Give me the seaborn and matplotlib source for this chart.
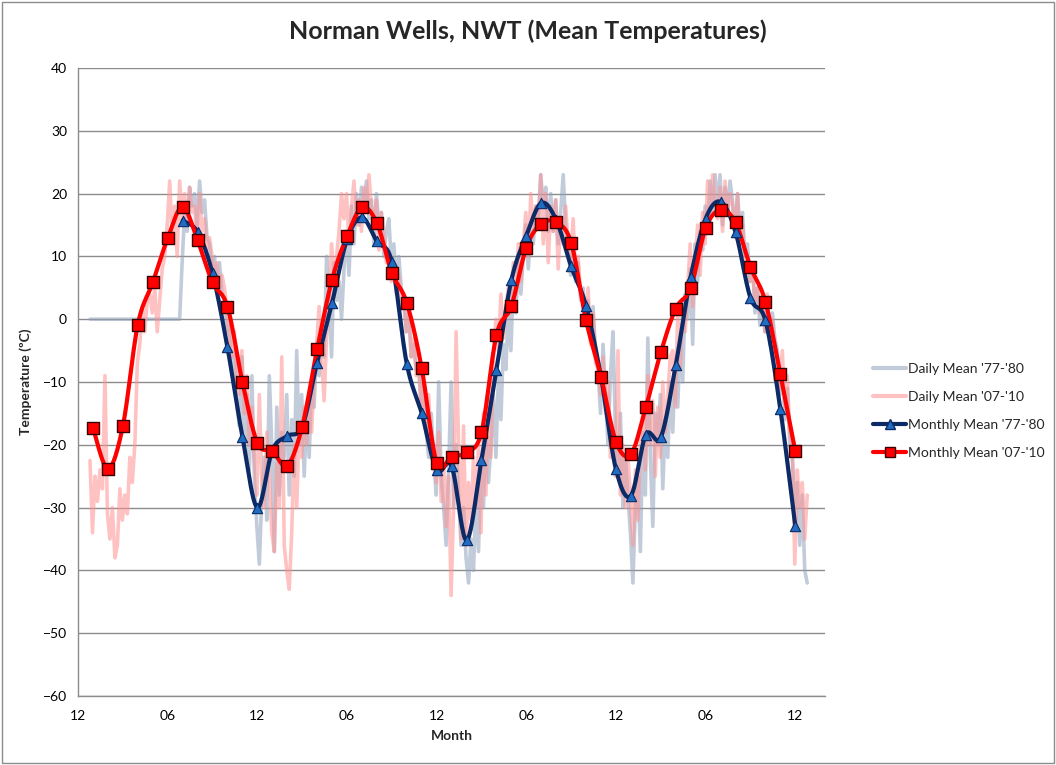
import numpy as np
import pandas as pd
import matplotlib
matplotlib.use("Agg")
import matplotlib.pyplot as plt
import seaborn as sns
from matplotlib.lines import Line2D
from matplotlib.patches import Rectangle

# ---- data -------------------------------------------------------------
tick_months = [0, 6, 12, 18, 24, 30, 36, 42, 48]
tick_labels = ["12", "06", "12", "06", "12", "06", "12", "06", "12"]

# monthly means (month index, Dec of the first year = 0)
months_77_80 = list(range(7, 49))
monthly_77_80 = [15.7, 13.9, 7.3, -4.5, -18.7, -30.0,
                 -20.9, -18.6, -17.1, -6.9, 2.6, 12.7,
                 16.2, 12.4, 9.1, -7.1, -15.0, -24.0,
                 -23.4, -35.2, -22.4, -8.1, 6.2, 13.3,
                 18.5, 15.8, 8.4, 2.1, -9.2, -23.9,
                 -28.1, -18.4, -18.8, -7.3, 6.7, 16.0,
                 18.7, 13.9, 3.4, -0.2, -14.3, -32.9]

months_07_10 = list(range(1, 49))
monthly_07_10 = [-17.3, -23.8, -17.0, -0.85, 5.85, 12.9,
                 17.9, 12.55, 5.85, 2.0, -10.0, -19.7,
                 -21.0, -23.3, -17.1, -4.8, 6.3, 13.2,
                 17.8, 15.3, 7.4, 2.6, -7.8, -22.9,
                 -21.9, -21.2, -18.0, -2.55, 2.1, 11.4,
                 15.2, 15.4, 12.2, -0.2, -9.15, -19.5,
                 -21.5, -14.0, -5.3, 1.7, 5.0, 14.5,
                 17.4, 15.4, 8.35, 2.8, -8.8, -21.0]

# daily means, sampled every ~5 days from month 0.8 to 48.8
daily_77_80 = [0, 0, 0, 0, 0, 0,
               0, 0, 0, 0, 0, 0,
               0, 0, 0, 0, 0, 0,
               0, 0, 0, 0, 0, 0,
               0, 0, 0, 0, 0, 0,
               0, 0, 0, 0, 0, 0,
               0, 9, 17, 14, 21, 18,
               20, 15, 22, 17, 19, 13,
               12, 8, 10, 5, 9, 4,
               3, -2, -1, -8, -5, -14,
               -17, -6, -20, -12, -24, -9,
               -25, -33, -39, -28, -22, -32,
               -9, -20, -37, -14, -28, -18,
               -22, -12, -28, -16, -25, -5,
               -20, -12, -25, -15, -22, -10,
               -14, -4, -9, -1, -6, 10,
               4, -6, 9, 3, 6, 0,
               8, 14, 7, 18, 12, 20,
               15, 21, 18, 22, 16, 19,
               12, 20, 15, 17, 10, 14,
               16, 9, 12, 6, 10, 5,
               3, -2, 1, -6, -4, -8,
               -7, -14, -10, -18, -22, -15,
               -22, -28, -10, -25, -30, -36,
               -24, -10, -30, -20, -28, -36,
               -30, -38, -42, -35, -40, -28,
               -37, -22, -30, -17, -26, -20,
               -12, -22, -9, -16, -4, -8,
               2, -5, 6, 1, 9, 4,
               10, 15, 8, 14, 12, 18,
               16, 23, 18, 21, 14, 20,
               14, 19, 12, 17, 23, 15,
               11, 7, 12, 6, 9, 3,
               5, 0, 3, -3, 2, -5,
               -8, -15, -4, -12, -20, -9,
               -2, -18, -25, -15, -30, -22,
               -28, -34, -42, -30, -25, -37,
               -18, -28, -3, -22, -33, -15,
               -20, -12, -27, -16, -22, -10,
               -18, -7, -14, -3, -10, 4,
               0, 8, -4, 12, 6, 14,
               11, 18, 14, 22, 17, 23,
               18, 23, 15, 21, 17, 22,
               19, 13, 20, 14, 17, 10,
               12, 6, 9, 1, 5, -1,
               4, -2, 3, -4, 1, -3,
               -5, -12, -8, -16, -11, -20,
               -22, -30, -26, -36, -28, -40,
               -42]

daily_07_10 = [-22.5, -34, -25, -29, -24, -27,
               -9, -31, -35, -30, -38, -36,
               -27, -32, -28, -31, -22, -26,
               -20, -7, -4, 2, -2, 3,
               4, 1, 5, -2, 3, 8,
               10, 15, 22, 13, 18, 10,
               22, 16, 20, 15, 21, 17,
               18, 12, 20, 14, 16, 11,
               13, 10, 6, 9, 4, 7,
               5, 1, -3, -6, -2, -10,
               -12, -5, -15, -9, -20, -14,
               -22, -28, -12, -26, -30, -18,
               -25, -34, -37, -23, -30, -6,
               -36, -40, -43, -34, -20, -30,
               -17, -22, -14, -20, -12, -18,
               -9, -4, 2, -6, -13, -3,
               3, 12, 6, 10, 14, 20,
               16, 20, 12, 18, 22, 15,
               19, 14, 21, 17, 23, 18,
               15, 19, 11, 17, 13, 9,
               9, 6, 8, 4, 7, 3,
               4, -2, 1, -6, -3, -9,
               -8, -14, -10, -18, -12, -20,
               -20, -26, -18, -29, -23, -33,
               -25, -44, -30, -2, -20, -35,
               -17, -36, -26, -32, -22, -30,
               -20, -34, -15, -28, -12, -22,
               -6, 0, -5, 4, -3, 2,
               5, 1, 9, 4, 12, 6,
               12, 17, 10, 20, 14, 18,
               15, 23, 12, 20, 9, 18,
               14, 19, 8, 16, 12, 18,
               12, 9, 16, 7, 10, 4,
               3, -1, 5, -4, 1, -7,
               -8, -12, -6, -15, -10, -22,
               -18, -25, -5, -28, -20, -30,
               -22, -28, -36, -24, -32, -20,
               -15, -24, -9, -20, -13, -25,
               -14, -22, -10, -18, -12, -6,
               -5, -14, 1, -8, 3, -2,
               5, 12, 2, 9, 15, 7,
               17, 12, 22, 15, 23, 18,
               16, 21, 14, 22, 17, 20,
               18, 14, 20, 12, 15, 9,
               10, 6, 8, 3, 5, 1,
               2, -2, 4, -4, 0, -6,
               -7, -11, -5, -14, -9, -18,
               -20, -39, -24, -30, -26, -35,
               -28]

# ---- colours ------------------------------------------------------------
C_DAILY_OLD = "#91a1bd"
C_DAILY_NEW = "#ff9191"
C_MONTH_OLD = "#0b2a66"
C_MARK_OLD = "#1f6cc0"
C_MONTH_NEW = "#ff0000"
GRID = "#8c8c8c"


def smooth_curve(x, y, steps=24):
    """Cubic Bezier smoothing through every point (spreadsheet-style)."""
    x = np.asarray(x, float)
    y = np.asarray(y, float)
    px = np.concatenate([[x[0]], x, [x[-1]]])
    py = np.concatenate([[y[0]], y, [y[-1]]])
    t = np.linspace(0, 1, steps)[:, None]
    xs, ys = [], []
    for i in range(1, len(px) - 2):
        p0 = np.array([px[i], py[i]])
        p3 = np.array([px[i + 1], py[i + 1]])
        c1 = p0 + (np.array([px[i + 1], py[i + 1]]) - np.array([px[i - 1], py[i - 1]])) / 6
        c2 = p3 - (np.array([px[i + 2], py[i + 2]]) - p0) / 6
        seg = ((1 - t) ** 3) * p0 + 3 * ((1 - t) ** 2) * t * c1 + 3 * (1 - t) * t ** 2 * c2 + t ** 3 * p3
        xs.append(seg[:, 0])
        ys.append(seg[:, 1])
    return np.concatenate(xs), np.concatenate(ys)


# ---- figure -------------------------------------------------------------
sns.set_theme(style="white")
plt.rcParams["font.family"] = ["Lato", "DejaVu Sans"]

fig = plt.figure(figsize=(10.56, 7.65), dpi=100)
ax = fig.add_axes([0.0739, 0.0902, 0.7075, 0.8209])

daily_old = pd.DataFrame({"month": np.linspace(0.8, 48.8, len(daily_77_80)),
                          "temp": daily_77_80})
daily_new = pd.DataFrame({"month": np.linspace(0.8, 48.8, len(daily_07_10)),
                          "temp": daily_07_10})

sns.lineplot(data=daily_old, x="month", y="temp", ax=ax, color=C_DAILY_OLD,
             alpha=0.55, linewidth=2.6, sort=False, zorder=2)
sns.lineplot(data=daily_new, x="month", y="temp", ax=ax, color=C_DAILY_NEW,
             alpha=0.55, linewidth=2.6, sort=False, zorder=2)

sx, sy = smooth_curve(months_77_80, monthly_77_80)
ax.plot(sx, sy, color=C_MONTH_OLD, linewidth=3.0, zorder=3, solid_capstyle="round")
sx, sy = smooth_curve(months_07_10, monthly_07_10)
ax.plot(sx, sy, color=C_MONTH_NEW, linewidth=3.0, zorder=4, solid_capstyle="round")

sns.scatterplot(x=months_77_80, y=monthly_77_80, ax=ax, marker="^", s=55,
                color=C_MARK_OLD, edgecolor=C_MONTH_OLD, linewidth=0.8, zorder=5)
sns.scatterplot(x=months_07_10, y=monthly_07_10, ax=ax, marker="s", s=70,
                color=C_MONTH_NEW, edgecolor="#3a0000", linewidth=1.0, zorder=6)

ax.set_xlim(0, 50)
ax.set_ylim(-60, 40)
ax.set_yticks(np.arange(-60, 41, 10))
ax.set_xticks(tick_months)
ax.set_xticklabels(tick_labels)
ax.yaxis.grid(True, color=GRID, linewidth=1.0)
ax.xaxis.grid(False)
ax.set_axisbelow(True)
for side in ("top", "right"):
    ax.spines[side].set_visible(False)
for side in ("left", "bottom"):
    ax.spines[side].set_color(GRID)
    ax.spines[side].set_linewidth(1.0)
ax.tick_params(axis="both", which="major", length=4, width=1.0, color=GRID,
               labelsize=10, labelcolor="#000000", direction="out", pad=6)
ax.tick_params(axis="y", pad=4)

ax.set_xlabel("Month", fontsize=10, fontweight="bold", labelpad=6)
ax.set_ylabel("Temperature (ºC)", fontsize=10, fontweight="bold", labelpad=8)
fig.suptitle("Norman Wells, NWT (Mean Temperatures)", x=0.5, y=0.975,
             fontsize=18, fontweight="bold")

handles = [
    Line2D([], [], color=C_DAILY_OLD, alpha=0.55, linewidth=3),
    Line2D([], [], color=C_DAILY_NEW, alpha=0.55, linewidth=3),
    Line2D([], [], color=C_MONTH_OLD, linewidth=3, marker="^", markersize=7,
           markerfacecolor=C_MARK_OLD, markeredgecolor=C_MONTH_OLD),
    Line2D([], [], color=C_MONTH_NEW, linewidth=3, marker="s", markersize=7,
           markerfacecolor=C_MONTH_NEW, markeredgecolor="#3a0000"),
]
labels = ["Daily Mean '77-'80", "Daily Mean '07-'10",
          "Monthly Mean '77-'80", "Monthly Mean '07-'10"]
fig.legend(handles, labels, loc="center left", bbox_to_anchor=(0.815, 0.463),
           frameon=False, fontsize=10, handlelength=2.4, handletextpad=0.1,
           labelspacing=1.15)

fig.add_artist(Rectangle((0.002, 0.003), 0.996, 0.994, transform=fig.transFigure,
                         fill=False, edgecolor="#8c8c8c", linewidth=1.0))

fig.savefig("out.png", dpi=100)
